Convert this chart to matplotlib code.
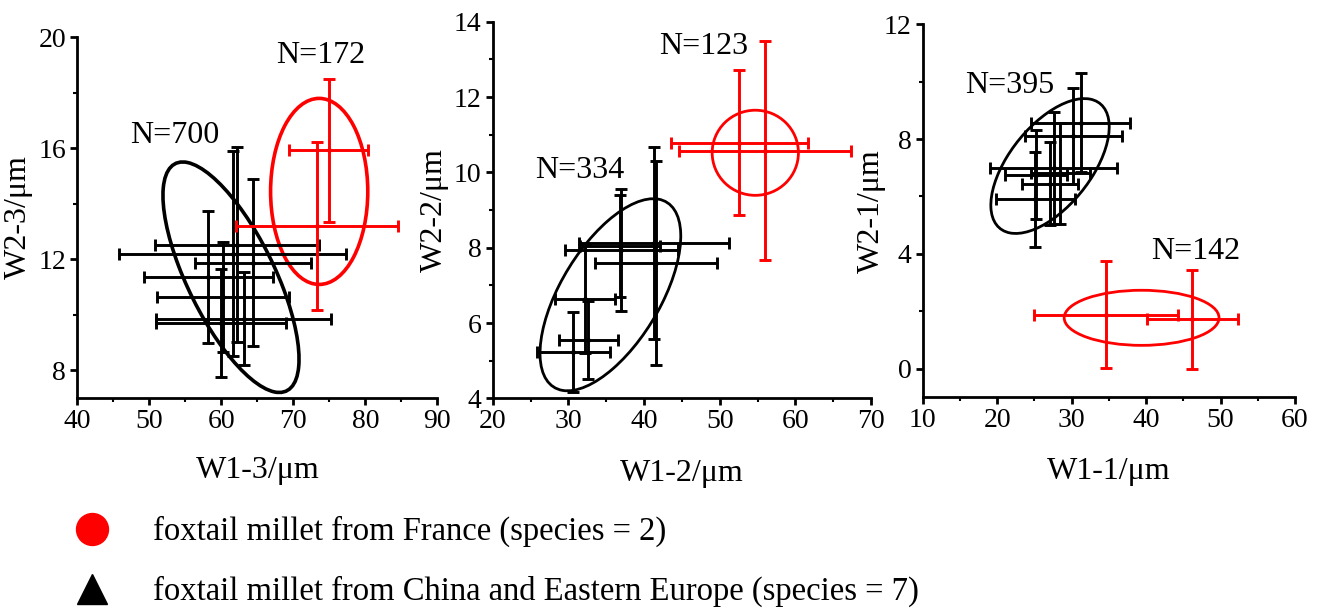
import numpy as np
import matplotlib
matplotlib.use('Agg')
import matplotlib.pyplot as plt
from matplotlib.patches import Ellipse
from matplotlib.lines import Line2D
from matplotlib.ticker import MultipleLocator

plt.rcParams['font.family'] = ['Liberation Serif', 'DejaVu Serif']

# ---- panel 1 : W1-3 vs W2-3 ----
p1_black_x = [62.2, 61.6, 64.4, 58.2, 60.2, 63.1, 60.0]
p1_black_y = [12.52, 12.2, 11.87, 11.36, 10.64, 9.86, 9.7]
p1_black_xerr = [11.35, 15.75, 8.1, 9.0, 9.15, 12.15, 9.0]
p1_black_yerr = [3.51, 3.69, 3.0, 2.38, 1.97, 1.68, 1.95]
p1_red_x = [74.9, 73.3]
p1_red_y = [15.92, 13.2]
p1_red_xerr = [5.45, 11.25]
p1_red_yerr = [2.57, 3.03]

# ---- panel 2 : W1-2 vs W2-2 ----
p2_black_x = [30.65, 32.65, 32.15, 41.6, 37.0, 36.8, 41.3]
p2_black_y = [5.23, 5.55, 6.65, 7.6, 7.94, 8.05, 8.12]
p2_black_xerr = [4.85, 3.95, 3.95, 8.05, 7.5, 5.3, 9.95]
p2_black_yerr = [1.05, 1.04, 1.45, 2.71, 1.63, 1.35, 2.55]
p2_red_x = [52.6, 56.0]
p2_red_y = [10.79, 10.57]
p2_red_xerr = [9.1, 11.35]
p2_red_yerr = [1.93, 2.91]

# ---- panel 3 : W1-1 vs W2-1 ----
p3_black_x = [31.2, 30.2, 27.6, 28.5, 25.2, 27.1, 25.1]
p3_black_y = [8.57, 8.1, 7.0, 6.8, 6.75, 6.45, 5.9]
p3_black_xerr = [6.6, 6.5, 8.5, 4.0, 4.2, 3.8, 5.3]
p3_black_yerr = [1.72, 1.67, 1.95, 1.75, 1.55, 1.45, 1.66]
p3_red_x = [34.6, 46.2]
p3_red_y = [1.88, 1.72]
p3_red_xerr = [9.7, 6.1]
p3_red_yerr = [1.87, 1.72]

# confidence ellipses: centre x, centre y, half x-extent, half y-extent, correlation
p1_ellipses = [(61.35, 11.35, 9.45, 4.15, -0.71), (73.6, 14.44, 6.75, 3.35, 0.0)]
p2_ellipses = [(35.55, 6.75, 9.3, 2.55, 0.61), (54.7, 10.52, 5.7, 1.13, 0.0)]
p3_ellipses = [(27.1, 7.06, 7.95, 2.35, 0.58), (39.4, 1.77, 10.4, 0.96, 0.0)]

p1_labels = [('N=700', 53.6, 16.46), ('N=172', 73.85, 19.34)]
p2_labels = [('N=334', 31.54, 10.06), ('N=123', 47.83, 13.34)]
p3_labels = [('N=395', 21.72, 9.85), ('N=142', 46.69, 4.07)]

xlabels = ['W1-3/\u03bcm', 'W1-2/\u03bcm', 'W1-1/\u03bcm']
ylabels = ['W2-3/\u03bcm', 'W2-2/\u03bcm', 'W2-1/\u03bcm']
legend_labels = ['foxtail millet from France (species = 2)',
                 'foxtail millet from China and Eastern Europe (species = 7)']


def add_ellipse(ax, cx, cy, rx, ry, rho, color, lw):
    # turn bounding half extents + correlation into a rotated ellipse
    cov = np.array([[rx**2, rho*rx*ry], [rho*rx*ry, ry**2]])
    vals, vecs = np.linalg.eigh(cov)
    ang = np.degrees(np.arctan2(vecs[1, 1], vecs[0, 1]))
    e = Ellipse((cx, cy), 2*np.sqrt(vals[1]), 2*np.sqrt(vals[0]), angle=ang,
                fill=False, edgecolor=color, lw=lw)
    ax.add_patch(e)


fig = plt.figure(figsize=(13.21, 6.10), dpi=100)
ax1 = fig.add_axes([0.0585, 0.3475, 0.2725, 0.5918])
ax2 = fig.add_axes([0.373, 0.347, 0.2864, 0.6174])
ax3 = fig.add_axes([0.6985, 0.3487, 0.2818, 0.6115])

panels = [
    (ax1, p1_black_x, p1_black_y, p1_black_xerr, p1_black_yerr,
     p1_red_x, p1_red_y, p1_red_xerr, p1_red_yerr, p1_ellipses, p1_labels, 2.6),
    (ax2, p2_black_x, p2_black_y, p2_black_xerr, p2_black_yerr,
     p2_red_x, p2_red_y, p2_red_xerr, p2_red_yerr, p2_ellipses, p2_labels, 2.0),
    (ax3, p3_black_x, p3_black_y, p3_black_xerr, p3_black_yerr,
     p3_red_x, p3_red_y, p3_red_xerr, p3_red_yerr, p3_ellipses, p3_labels, 2.0),
]

for ax, bx, by, bxe, bye, rx_, ry_, rxe, rye, ells, labs, elw in panels:
    ax.errorbar(bx, by, xerr=bxe, yerr=bye, fmt='o', color='black', ms=2.5,
                elinewidth=2.1, capsize=4.5, capthick=2.1)
    ax.errorbar(rx_, ry_, xerr=rxe, yerr=rye, fmt='o', color='#ff0000', ms=2.5,
                elinewidth=2.1, capsize=4.5, capthick=2.1)
    add_ellipse(ax, *ells[0], 'black', elw)
    add_ellipse(ax, *ells[1], '#ff0000', elw)
    for t, x, y in labs:
        ax.text(x, y, t, ha='center', va='center', fontsize=23)

ax1.set_xlim(40, 90)
ax1.set_ylim(7, 20)
ax1.yaxis.set_major_locator(MultipleLocator(4))
ax1.yaxis.set_minor_locator(MultipleLocator(2))

ax2.set_xlim(20, 70)
ax2.set_ylim(4, 14)
ax2.yaxis.set_major_locator(MultipleLocator(2))
ax2.yaxis.set_minor_locator(MultipleLocator(1))

ax3.set_xlim(10, 60)
ax3.set_ylim(-1, 12)
ax3.yaxis.set_major_locator(MultipleLocator(4))
ax3.yaxis.set_minor_locator(MultipleLocator(2))

ylab_x = [-0.123, -0.115, -0.1]
for i, ax in enumerate([ax1, ax2, ax3]):
    ax.xaxis.set_major_locator(MultipleLocator(10))
    ax.xaxis.set_minor_locator(MultipleLocator(5))
    for s in ['top', 'right']:
        ax.spines[s].set_visible(False)
    for s in ['left', 'bottom']:
        ax.spines[s].set_linewidth(2)
    ax.tick_params(which='major', length=5, width=2, labelsize=20, pad=3)
    ax.tick_params(which='minor', length=3, width=1.5)
    ax.set_xlabel(xlabels[i], fontsize=23)
    ax.set_ylabel(ylabels[i], fontsize=23)
    ax.xaxis.set_label_coords(0.5, -0.16)
    ax.yaxis.set_label_coords(ylab_x[i], 0.5)

# legend at the bottom
handles = [Line2D([], [], marker='o', color='#ff0000', linestyle='none', markersize=23),
           Line2D([], [], marker='^', color='black', linestyle='none', markersize=22)]
fig.legend(handles, legend_labels, loc='upper left', bbox_to_anchor=(0.0573, 0.154),
           frameon=False, fontsize=23.5, handlelength=1.0, handletextpad=1.37,
           labelspacing=0.88, borderpad=0, borderaxespad=0)

fig.savefig('out.png', dpi=100)
